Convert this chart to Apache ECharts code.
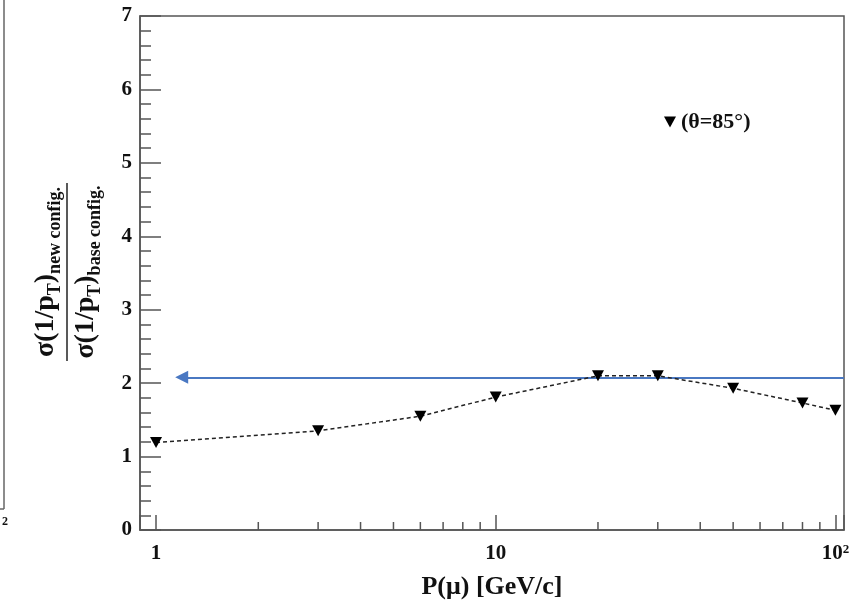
<!DOCTYPE html>
<html>
<head>
<meta charset="utf-8">
<script src="https://cdn.jsdelivr.net/npm/echarts@6/dist/echarts.min.js"></script>
<style>html,body{margin:0;padding:0;background:#fff;}#chart{width:861px;height:600px;}</style>
</head>
<body>
<div id="chart"></div>
<script>
// ---- data ----
const pValues = [1, 3, 6, 10, 20, 30, 50, 80, 100];
const ratioValues = [1.19, 1.35, 1.55, 1.81, 2.10, 2.10, 1.93, 1.73, 1.63];
const seriesName = '(θ=85°)';
const refLineY = 2.08;
const refLineXStart = 1.19;
const refLineXEnd = 106;
const xMin = 0.897, xMax = 106;
const yMin = 0, yMax = 7, yInterval = 1;
const xMinorTicks = [2, 3, 4, 5, 6, 7, 8, 9, 20, 30, 40, 50, 60, 70, 80, 90];
const xTickLabels = {1: '1', 10: '10', 100: '10{s|2}'};
const xTitle = 'P(μ) [GeV/c]';
const yTitleNum = [['σ(1/p', 'm'], ['T', 's'], [')', 'm'], ['new config.', 's']];
const yTitleDen = [['σ(1/p', 'm'], ['T', 's'], [')', 'm'], ['base config.', 's']];

const FONT = 'Liberation Serif';
const AXIS = '#555';
const TXT = '#111';
const MAIN_SIZE = 28, SUB_SIZE = 18;

const measureCtx = document.createElement('canvas').getContext('2d');
function textWidth(str, size) {
  measureCtx.font = 'bold ' + size + 'px "' + FONT + '"';
  return measureCtx.measureText(str).width;
}
// builds one line of the rotated fraction: main text and lowered subscripts
function fracLine(parts, mainMid, subMid) {
  const widths = parts.map(p => textWidth(p[0], p[1] === 'm' ? MAIN_SIZE : SUB_SIZE));
  const total = widths.reduce((a, b) => a + b, 0);
  let pos = -total / 2;
  return parts.map((p, i) => {
    const el = {type: 'text', x: pos, y: p[1] === 'm' ? mainMid : subMid, style: {
      text: p[0], fontFamily: FONT, fontWeight: 'bold', fontSize: p[1] === 'm' ? MAIN_SIZE : SUB_SIZE,
      fill: TXT, align: 'left', verticalAlign: 'middle'}};
    pos += widths[i];
    return el;
  });
}

const chart = echarts.init(document.getElementById('chart'));
const option = {
  animation: false,
  backgroundColor: '#fff',
  grid: {left: 140, right: 17, top: 16, bottom: 70, outerBoundsMode: 'none', containLabel: false,
    show: true, borderColor: AXIS, borderWidth: 1.5, backgroundColor: 'transparent'},
  legend: {
    left: 659, top: 106, itemWidth: 12, itemHeight: 11, itemGap: 13,
    data: [{name: seriesName, icon: 'path://M0,0L10,0L5,9Z'}],
    textStyle: {fontFamily: FONT, fontWeight: 'bold', fontSize: 22, color: TXT}
  },
  xAxis: {
    type: 'log', logBase: 10, min: xMin, max: xMax,
    axisLine: {lineStyle: {color: AXIS, width: 1.5}},
    axisTick: {inside: true, length: 15, lineStyle: {color: AXIS, width: 1.5}},
    splitLine: {show: false},
    axisLabel: {
      margin: 13, fontFamily: FONT, fontWeight: 'bold', fontSize: 21, color: TXT,
      formatter: function (v) {
        const k = Math.round(v);
        return (Math.abs(v - k) < 1e-6 && xTickLabels[k] !== undefined) ? xTickLabels[k] : '';
      },
      rich: {s: {fontFamily: FONT, fontWeight: 'bold', fontSize: 13, verticalAlign: 'top', color: TXT}}
    },
    name: xTitle, nameLocation: 'middle', nameGap: 44,
    nameTextStyle: {fontFamily: FONT, fontWeight: 'bold', fontSize: 26, color: TXT}
  },
  yAxis: {
    type: 'value', min: yMin, max: yMax, interval: yInterval,
    axisLine: {lineStyle: {color: AXIS, width: 1.5}},
    axisTick: {inside: true, length: 21, lineStyle: {color: AXIS, width: 1.5}},
    minorTick: {show: true, splitNumber: 5, length: 11, lineStyle: {color: AXIS, width: 1.5}},
    splitLine: {show: false},
    axisLabel: {margin: 8, fontFamily: FONT, fontWeight: 'bold', fontSize: 21, color: TXT}
  },
  series: [
    {
      name: seriesName, type: 'line',
      data: pValues.map((p, i) => [p, ratioValues[i]]),
      symbol: 'triangle', symbolRotate: 180, symbolSize: [12, 11],
      itemStyle: {color: '#000'},
      lineStyle: {color: '#222', width: 1.5, type: [4, 3]},
      z: 5,
      markLine: {
        silent: true, symbol: ['triangle', 'none'], symbolSize: 13,
        label: {show: false},
        lineStyle: {color: '#4a78c2', width: 2, type: 'solid'},
        data: [[{coord: [refLineXStart, refLineY]}, {coord: [refLineXEnd, refLineY]}]]
      }
    },
    {
      name: 'minorTicks', type: 'custom', silent: true,
      data: xMinorTicks.map(v => [v, 0]),
      renderItem: function (params, api) {
        const p = api.coord([api.value(0), 0]);
        return {type: 'line', shape: {x1: p[0], y1: p[1], x2: p[0], y2: p[1] - 8},
          style: {stroke: AXIS, lineWidth: 1.5}};
      },
      z: 3
    }
  ],
  graphic: [
    {
      type: 'group', x: 67, y: 272, rotation: Math.PI / 2,
      children: [].concat(
        fracLine(yTitleNum, -21, -12),
        [{type: 'line', shape: {x1: -89, y1: 0, x2: 89, y2: 0}, style: {stroke: '#222', lineWidth: 1.5}}],
        fracLine(yTitleDen, 19, 28)
      )
    },
    {type: 'line', shape: {x1: 4, y1: 0, x2: 4, y2: 509}, style: {stroke: '#666', lineWidth: 1.5}},
    {type: 'line', shape: {x1: 0, y1: 509, x2: 4, y2: 509}, style: {stroke: '#666', lineWidth: 1.5}},
    {type: 'text', x: 2, y: 516, style: {text: '2', fontFamily: FONT, fontWeight: 'bold', fontSize: 12, fill: TXT}}
  ]
};
chart.setOption(option);
</script>
</body>
</html>
